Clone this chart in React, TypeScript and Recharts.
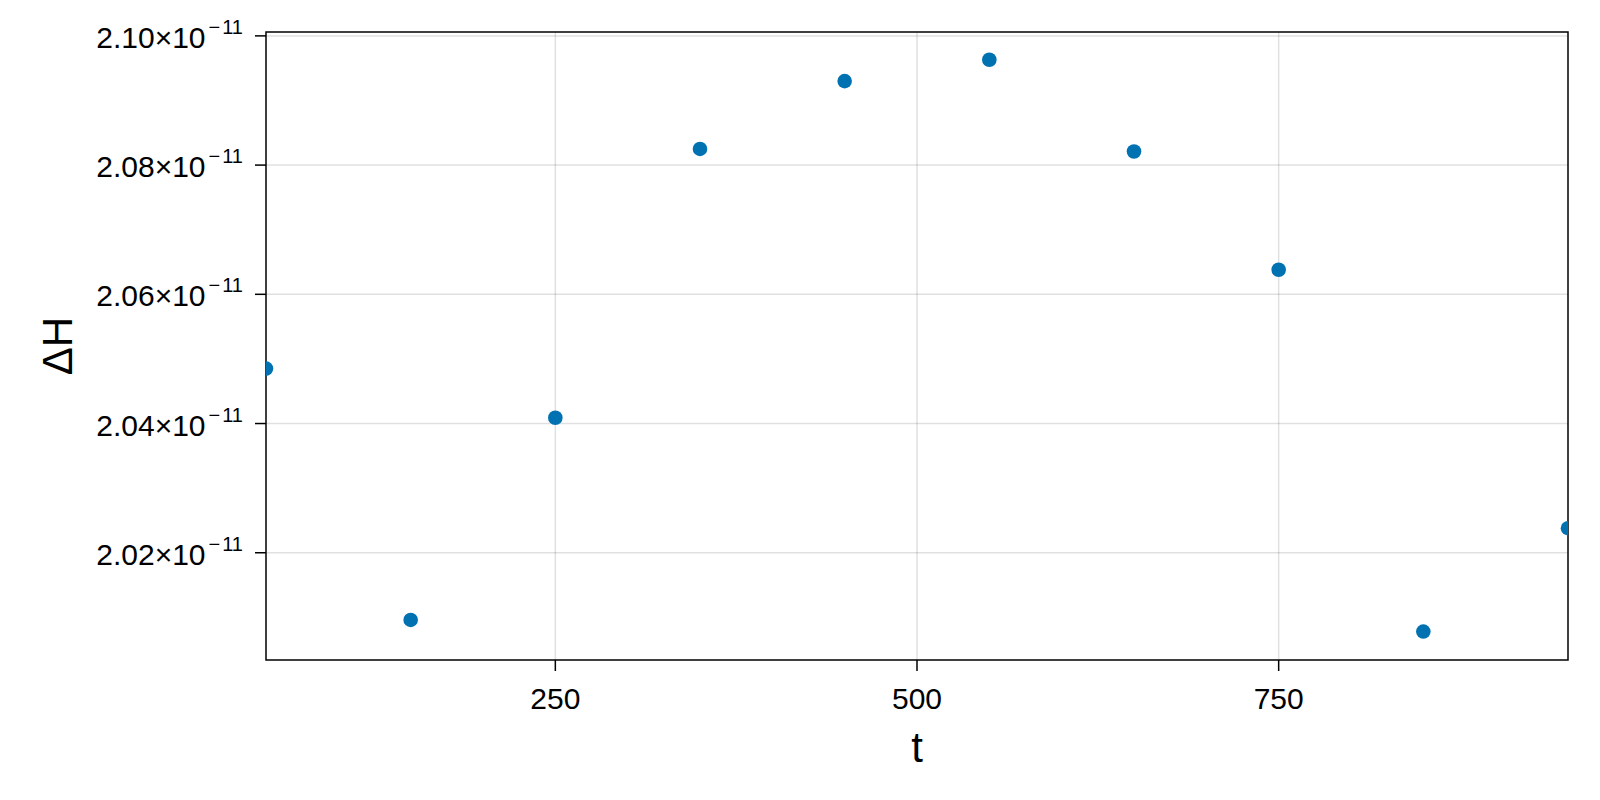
import {
  ScatterChart,
  Scatter,
  XAxis,
  YAxis,
  CartesianGrid,
  ReferenceArea,
} from "recharts";

// values of ΔH are in units of 1e-11
const tValues = [50, 150, 250, 350, 450, 550, 650, 750, 850, 950];
const dHValues = [
  2.0485, 2.0096, 2.0409, 2.0825, 2.093, 2.0963, 2.0821, 2.0638, 2.0078, 2.0238,
];
const xTicks = [250, 500, 750];
const yTicks = [2.02, 2.04, 2.06, 2.08, 2.1];
const xDomain = [50, 950];
const yDomain = [2.0034, 2.1006];
const exponent = "11";

const FONT = "'Liberation Sans', Arial, sans-serif";
const DOT = "#0072b2";

const data = tValues.map((t, i) => ({ t, dH: dHValues[i] }));

const XTick = ({ x, y, payload }: any) => (
  <text
    x={x}
    y={y + 36}
    textAnchor="middle"
    fontSize={30}
    fontFamily={FONT}
    fill="#000"
  >
    {payload.value}
  </text>
);

const YTick = ({ x, y, payload }: any) => (
  <text
    x={x}
    y={y + 12}
    textAnchor="end"
    fontSize={30}
    fontFamily={FONT}
    fill="#000"
  >
    {payload.value.toFixed(2)}×10
    <tspan fontSize={20} dx={3} dy={-14}>
      −
    </tspan>
    <tspan fontSize={20} dx={2}>
      {exponent}
    </tspan>
  </text>
);

export default function App() {
  return (
    <div
      style={{
        position: "absolute",
        left: 0,
        top: 0,
        width: 1600,
        height: 800,
        background: "#fff",
      }}
    >
      <ScatterChart
        width={1600}
        height={800}
        margin={{ top: 32, right: 32, bottom: 0, left: 0 }}
      >
        <CartesianGrid
          stroke="#000"
          strokeOpacity={0.12}
          strokeWidth={1.5}
          horizontalValues={yTicks}
          verticalValues={xTicks}
        />
        <XAxis
          type="number"
          dataKey="t"
          domain={xDomain}
          ticks={xTicks}
          allowDataOverflow
          height={140}
          axisLine={false}
          tickSize={11}
          tickLine={{ stroke: "#000", strokeWidth: 1.5 }}
          tick={<XTick />}
          label={{
            content: ({ viewBox }: any) => (
              <text
                x={viewBox.x + viewBox.width / 2}
                y={viewBox.y + 102}
                textAnchor="middle"
                fontSize={42}
                fontFamily={FONT}
                fill="#000"
              >
                t
              </text>
            ),
          }}
        />
        <YAxis
          type="number"
          dataKey="dH"
          domain={yDomain}
          ticks={yTicks}
          allowDataOverflow
          width={266}
          axisLine={false}
          tickSize={11}
          tickMargin={12}
          tickLine={{ stroke: "#000", strokeWidth: 1.5 }}
          tick={<YTick />}
          label={{
            content: ({ viewBox }: any) => (
              <text
                transform={`translate(${viewBox.x + 72}, ${
                  viewBox.y + viewBox.height / 2
                }) rotate(-90)`}
                textAnchor="middle"
                fontSize={42}
                fontFamily={FONT}
                fill="#000"
              >
                ΔH
              </text>
            ),
          }}
        />
        <Scatter
          data={data}
          isAnimationActive={false}
          shape={(p: any) => (
            <circle cx={p.cx} cy={p.cy} r={7.3} fill={DOT} />
          )}
        />
        <ReferenceArea
          x1={xDomain[0]}
          x2={xDomain[1]}
          y1={yDomain[0]}
          y2={yDomain[1]}
          fill="none"
          stroke="#000"
          strokeWidth={1.5}
          ifOverflow="visible"
        />
      </ScatterChart>
    </div>
  );
}
